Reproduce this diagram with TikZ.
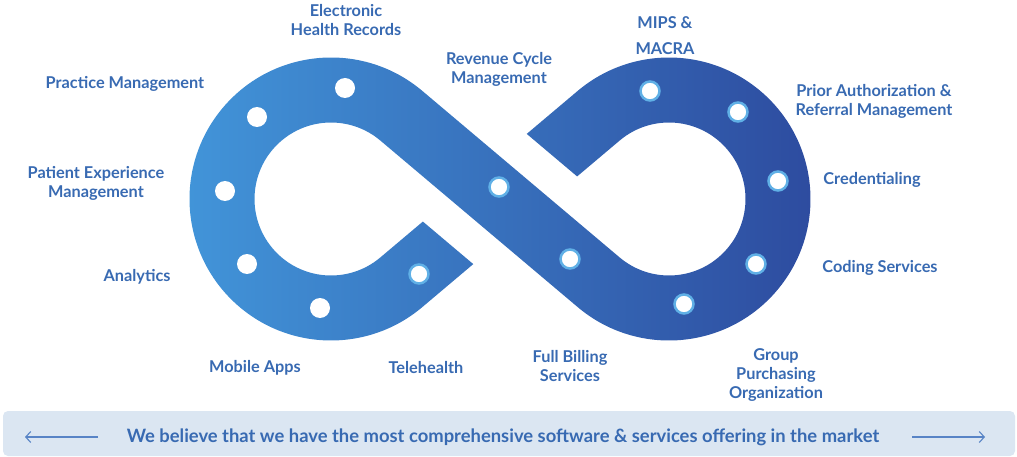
\documentclass[tikz,border=0pt]{standalone}
\usepackage{fontspec}
\setmainfont{Lato}
\usetikzlibrary{arrows.meta}
\definecolor{bandlight}{RGB}{66,150,218}
\definecolor{banddark}{RGB}{45,74,158}
\definecolor{labelblue}{RGB}{56,106,178}
\definecolor{ringblue}{RGB}{96,176,230}
\definecolor{bannerfill}{RGB}{219,230,242}
\definecolor{arrowblue}{RGB}{88,132,198}
\tikzset{
  item/.style={font=\bfseries\fontsize{16.3}{19}\selectfont, text=labelblue, align=center},
  dot/.style={circle, fill=white, inner sep=0pt, minimum size=20pt},
  ringdot/.style={dot, draw=ringblue, line width=2.5pt, minimum size=19pt},
  arrowline/.style={arrowblue, line width=1.1pt, -{Straight Barb[length=5pt,width=11pt]}},
}

\begin{document}
\begin{tikzpicture}[x=1pt,y=-1pt]
  \useasboundingbox (0,0) rectangle (1017,457);
  \begin{scope}[shift={(500,199)},yscale=-1]
    \coordinate (L) at (-169,0);
    \coordinate (R) at (169,0);
    \shade[left color=bandlight,right color=banddark]
      ([shift={(229.84:141.5)}]R) arc[start angle=229.84,end angle=490.16,radius=141.5]
      -- (26.74,65.10) -- (77.13,22.57)
      -- ([shift={(130.16:76.5)}]R) arc[start angle=130.16,end angle=-130.16,radius=76.5]
      -- ([shift={(49.84:141.5)}]L) arc[start angle=49.84,end angle=310.16,radius=141.5]
      -- (-26.74,-65.10) -- (-77.13,-22.57)
      -- ([shift={(-49.84:76.5)}]L) arc[start angle=-49.84,end angle=-310.16,radius=76.5]
      -- cycle;
  \end{scope}

  \draw
    (257,117) node[dot] (1){}
    (345,88) node[dot] (2){}
    (225,191) node[dot] (3){}
    (247,264) node[dot] (4){}
    (320,308) node[dot] (5){}
    (419,274) node[ringdot] (6){}
    (499,187) node[ringdot] (7){}
    (570,259) node[ringdot] (8){}
    (684,304) node[ringdot] (9){}
    (756,264) node[ringdot] (10){}
    (778,181) node[ringdot] (11){}
    (738,112) node[ringdot] (12){}
    (650,91) node[ringdot] (13){};

  \node[item] (ehr) at (346,20) {Electronic\\Health Records};
  \node[item] (practice) at (125,84) {Practice Management};
  \node[item] (patient) at (96,183) {Patient Experience\\Management};
  \node[item] (analytics) at (137,277) {Analytics};
  \node[item] (mobile) at (255,368) {Mobile Apps};
  \node[item] (tele) at (426,368) {Telehealth};
  \node[item] (revenue) at (499,69) {Revenue Cycle\\Management};
  \node[item] (mips) at (665,36) {MIPS \&\\[7pt]MACRA};
  \node[item] (prior) at (874,101) {Prior Authorization \&\\Referral Management};
  \node[item] (cred) at (872,180) {Credentialing};
  \node[item] (coding) at (880,268) {Coding Services};
  \node[item] (billing) at (570,366) {Full Billing\\Services};
  \node[item] (gpo) at (776,375) {Group\\Purchasing\\Organization};

  \fill[bannerfill, rounded corners=5pt] (3,411) rectangle (1015,456);
  \node[item, font=\bfseries\fontsize{18.4}{20}\selectfont] (motto) at (503,437) {We believe that we have the most comprehensive software \& services offering in the market};
  \coordinate (la) at (98,437);
  \coordinate (lb) at (25,437);
  \coordinate (ra) at (912,437);
  \coordinate (rb) at (985,437);
  \draw[arrowline] (la) -- (lb);
  \draw[arrowline] (ra) -- (rb);
\end{tikzpicture}
\end{document}
